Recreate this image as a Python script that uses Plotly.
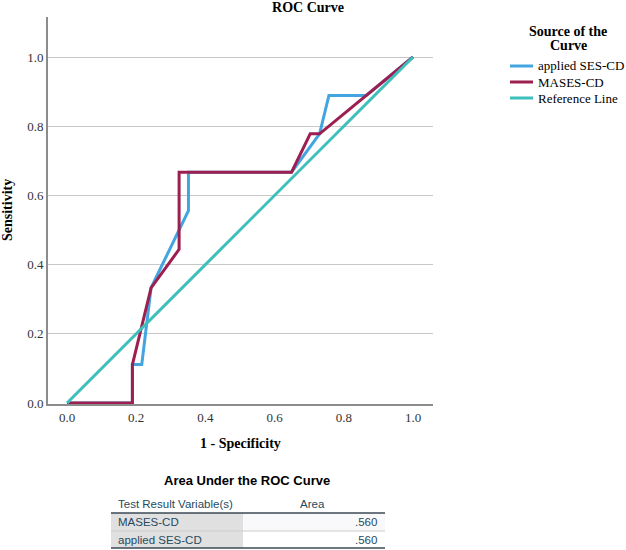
import plotly.graph_objects as go

# ---- data ----
ses_x = [0.0, 0.189, 0.189, 0.216, 0.243, 0.351, 0.351, 0.649, 0.730, 0.757, 0.865, 1.0]
ses_y = [0.0, 0.0, 0.111, 0.111, 0.333, 0.556, 0.667, 0.667, 0.778, 0.889, 0.889, 1.0]
mases_x = [0.0, 0.189, 0.189, 0.243, 0.324, 0.324, 0.649, 0.703, 0.730, 0.865, 1.0]
mases_y = [0.0, 0.0, 0.111, 0.333, 0.444, 0.667, 0.667, 0.778, 0.778, 0.889, 1.0]
ref_x = [0.0, 1.0]
ref_y = [0.0, 1.0]
series_names = ["applied SES-CD", "MASES-CD", "Reference Line"]
tick_vals = [0.0, 0.2, 0.4, 0.6, 0.8, 1.0]
tick_text = ["0.0", "0.2", "0.4", "0.6", "0.8", "1.0"]
auc_vars = ["MASES-CD", "applied SES-CD"]
auc_vals = [".560", ".560"]

BLUE = "#42A5E0"
MAROON = "#9C1F50"
TEAL = "#3DBFBC"
colors = [BLUE, MAROON, TEAL]
SERIF = "Liberation Serif"
SANS = "Liberation Sans"

W, H = 626, 550
L, R, T, B = 48, 433, 17, 404
PW, PH = R - L, B - T


def px_x(p):
    return (p - L) / PW


def px_y(p):
    return (B - p) / PH


fig = go.Figure()
for xs, ys, nm, col in zip([ses_x, mases_x, ref_x], [ses_y, mases_y, ref_y], series_names, colors):
    fig.add_trace(go.Scatter(x=xs, y=ys, mode="lines", name=nm,
                             line=dict(color=col, width=3), showlegend=False))

annotations = [
    dict(text="<b>Sensitivity</b>", x=px_x(8), y=px_y(210), xref="paper", yref="paper",
         textangle=-90, showarrow=False, font=dict(family=SERIF, size=14, color="#000"),
         xanchor="center", yanchor="middle"),
    dict(text="<b>1 - Specificity</b>", x=px_x(240), y=px_y(443), xref="paper", yref="paper",
         showarrow=False, font=dict(family=SERIF, size=14, color="#000"),
         xanchor="center", yanchor="middle"),
    dict(text="<b>Area Under the ROC Curve</b>", x=px_x(247), y=px_y(480), xref="paper",
         yref="paper", showarrow=False, font=dict(family=SANS, size=13, color="#000"),
         xanchor="center", yanchor="middle"),
    dict(text="Test Result Variable(s)", x=px_x(116), y=px_y(504), xref="paper", yref="paper",
         showarrow=False, font=dict(family=SANS, size=11.5, color="#264A60"),
         xanchor="left", yanchor="middle"),
    dict(text="Area", x=px_x(312), y=px_y(504), xref="paper", yref="paper",
         showarrow=False, font=dict(family=SANS, size=11.5, color="#264A60"),
         xanchor="center", yanchor="middle"),
    # legend title (two lines)
    dict(text="<b>Source of the</b>", x=px_x(568), y=px_y(32), xref="paper",
         yref="paper", showarrow=False, font=dict(family=SERIF, size=14, color="#000"),
         xanchor="center", yanchor="middle"),
    dict(text="<b>Curve</b>", x=px_x(568), y=px_y(45.5), xref="paper",
         yref="paper", showarrow=False, font=dict(family=SERIF, size=14, color="#000"),
         xanchor="center", yanchor="middle"),
]

shapes = []
# legend entries
for i, (nm, col) in enumerate(zip(series_names, colors)):
    yy = 66 + 16 * i
    shapes.append(dict(type="line", xref="paper", yref="paper", x0=px_x(510), x1=px_x(533),
                       y0=px_y(yy), y1=px_y(yy), line=dict(color=col, width=3)))
    annotations.append(dict(text=nm, x=px_x(536), y=px_y(yy), xref="paper", yref="paper",
                            showarrow=False, font=dict(family=SERIF, size=13, color="#000"),
                            xanchor="left", yanchor="middle"))

# AUC table
row_top = [513, 531]
row_bot = [531, 548]
data_bg = ["#F9F9FB", "#FFFFFF"]
for i, (name, val) in enumerate(zip(auc_vars, auc_vals)):
    t, b = row_top[i], row_bot[i]
    shapes.append(dict(type="rect", xref="paper", yref="paper", x0=px_x(111), x1=px_x(243),
                       y0=px_y(b), y1=px_y(t), fillcolor="#E0E0E0", line=dict(width=0)))
    shapes.append(dict(type="rect", xref="paper", yref="paper", x0=px_x(243), x1=px_x(385),
                       y0=px_y(b), y1=px_y(t), fillcolor=data_bg[i], line=dict(width=0)))
    mid = (t + b) / 2
    annotations.append(dict(text=name, x=px_x(116), y=px_y(mid), xref="paper", yref="paper",
                            showarrow=False, font=dict(family=SANS, size=11.5, color="#264A60"),
                            xanchor="left", yanchor="middle"))
    annotations.append(dict(text=val, x=px_x(379), y=px_y(mid), xref="paper", yref="paper",
                            showarrow=False, font=dict(family=SANS, size=11.5, color="#264A60"),
                            xanchor="right", yanchor="middle"))

shapes.append(dict(type="line", xref="paper", yref="paper", x0=px_x(111), x1=px_x(385),
                   y0=px_y(531), y1=px_y(531), line=dict(color="#CCCCCC", width=1)))
shapes.append(dict(type="line", xref="paper", yref="paper", x0=px_x(111), x1=px_x(385),
                   y0=px_y(513), y1=px_y(513), line=dict(color="#3B4A55", width=1.5)))
shapes.append(dict(type="line", xref="paper", yref="paper", x0=px_x(111), x1=px_x(385),
                   y0=px_y(548), y1=px_y(548), line=dict(color="#3B4A55", width=1.5)))

fig.update_layout(
    width=W, height=H,
    margin=dict(l=L, r=W - R, t=T, b=H - B, pad=0),
    paper_bgcolor="white", plot_bgcolor="white",
    title=dict(text="<b>ROC Curve</b>", x=308 / W, xanchor="center", xref="container",
               y=1 - 7 / H, yanchor="middle", yref="container",
               font=dict(family=SERIF, size=14, color="#000")),
    xaxis=dict(range=[-19 / 346, 366 / 346], tickvals=tick_vals, ticktext=tick_text,
               showgrid=False, zeroline=False, showline=True, linecolor="#8C8C8C",
               linewidth=2, ticks="", automargin=False,
               tickfont=dict(family=SERIF, size=13, color="#333")),
    yaxis=dict(range=[-1 / 346, 386 / 346], tickvals=tick_vals, ticktext=tick_text,
               showgrid=True, gridcolor="#C8C8C8", gridwidth=1, zeroline=False,
               showline=True, linecolor="#8C8C8C", linewidth=2, ticks="", automargin=False,
               tickfont=dict(family=SERIF, size=13, color="#333")),
    annotations=annotations,
    shapes=shapes,
    showlegend=False,
)

fig.write_html("out.html", config={"displayModeBar": False},
               post_script="document.body.style.margin='0';")
